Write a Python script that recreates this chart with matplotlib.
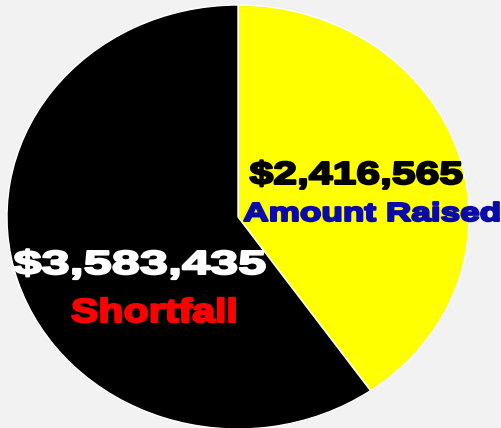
import matplotlib
matplotlib.use("Agg")
import matplotlib.pyplot as plt
from matplotlib.textpath import TextPath
from matplotlib.patches import PathPatch
from matplotlib.font_manager import FontProperties
from matplotlib.transforms import Affine2D

# data
labels = ["Amount Raised", "Shortfall"]
amounts = [2416565, 3583435]
slice_colors = ["#ffff00", "#000000"]
value_colors = ["#000000", "#ffffff"]
label_colors = ["#0a0aa8", "#ff0000"]

W, H = 502, 428
fig = plt.figure(figsize=(W / 100, H / 100), dpi=100)
fig.patch.set_facecolor("#f2f2f2")
ax = fig.add_axes([0, 0, 1, 1])
ax.set_facecolor("#f2f2f2")

# pie centre and radii in pixels (slightly squashed ellipse)
cx, cy = 238, 217
rx, ry = 231, 212

ax.pie(amounts, colors=slice_colors, startangle=90, counterclock=False,
       radius=1, center=(0, 0),
       wedgeprops=dict(edgecolor="white", linewidth=1.0))
ax.set_aspect("auto")
ax.set_xlim(-cx / rx, (W - cx) / rx)
ax.set_ylim(-(H - cy) / ry, cy / ry)
ax.axis("off")

# overlay in pixel coords for the wide, heavy labels
ov = fig.add_axes([0, 0, 1, 1])
ov.set_xlim(0, W)
ov.set_ylim(H, 0)
ov.axis("off")
ov.patch.set_visible(False)

fp = FontProperties(family="Liberation Sans", weight="bold")
cap_h = TextPath((0, 0), "H", size=1, prop=fp).get_extents().height
stroke = 1.6              # pt, fattens the bold face
half = stroke * 100 / 72 / 2  # px added on each side


def put(s, x0, x1, base, cap_px, color):
    # stretch the glyphs so they fill the box like a black-weight face
    tp = TextPath((0, 0), s, size=1, prop=fp)
    ext = tp.get_extents()
    sx = (x1 - x0 - 2 * half) / ext.width
    sy = (cap_px - 2 * half) / cap_h
    tr = (Affine2D().translate(-ext.x0, 0).scale(sx, -sy)
          .translate(x0 + half, base - half))
    ov.add_patch(PathPatch(tr.transform_path(tp), facecolor=color,
                           edgecolor=color, lw=stroke, joinstyle="round"))


put(f"${amounts[0]:,}", 249, 463, 185, 24, value_colors[0])
put(labels[0], 243, 500, 222, 20, label_colors[0])
put(f"${amounts[1]:,}", 13, 266, 275, 25, value_colors[1])
put(labels[1], 71, 236, 323, 25, label_colors[1])

fig.savefig("out.png", dpi=100, facecolor=fig.get_facecolor())
